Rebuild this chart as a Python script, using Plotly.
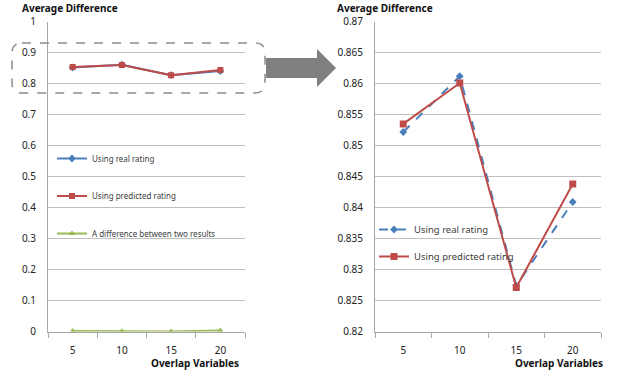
import plotly.graph_objects as go

# ---- data ----
categories = ["5", "10", "15", "20"]
real_rating = [0.8522, 0.8612, 0.8274, 0.8409]
predicted_rating = [0.8535, 0.8601, 0.8271, 0.8438]
difference = [0.0013, 0.0011, 0.0003, 0.0029]

left_ticks = [0, 0.1, 0.2, 0.3, 0.4, 0.5, 0.6, 0.7, 0.8, 0.9, 1]
left_ticktext = ["0", "0.1", "0.2", "0.3", "0.4", "0.5", "0.6", "0.7", "0.8", "0.9", "1"]
right_ticks = [0.82, 0.825, 0.83, 0.835, 0.84, 0.845, 0.85, 0.855, 0.86, 0.865, 0.87]
right_ticktext = ["0.82", "0.825", "0.83", "0.835", "0.84", "0.845", "0.85", "0.855", "0.86", "0.865", "0.87"]

names = ["Using real rating", "Using predicted rating", "A difference between two results"]

BLUE = "#4A7EBB"
RED = "#BE4B48"
GREEN = "#98B954"
GRID = "#BFBFBF"
AXIS = "#A6A6A6"
FONT = "Noto Sans"

W, H = 623, 376

def px(x):
    return x / W

def py(y):
    return 1 - y / H

fig = go.Figure()

# left chart
fig.add_trace(go.Scatter(x=categories, y=real_rating, name=names[0], mode="lines+markers",
                         line=dict(color=BLUE, width=2), marker=dict(symbol="diamond", size=6, color=BLUE),
                         xaxis="x", yaxis="y", legend="legend", legendgroup="a"))
fig.add_trace(go.Scatter(x=categories, y=predicted_rating, name=names[1], mode="lines+markers",
                         line=dict(color=RED, width=2), marker=dict(symbol="square", size=6, color=RED),
                         xaxis="x", yaxis="y", legend="legend", legendgroup="b"))
fig.add_trace(go.Scatter(x=categories, y=difference, name=names[2], mode="lines+markers",
                         line=dict(color=GREEN, width=2), marker=dict(symbol="triangle-up", size=6, color=GREEN),
                         xaxis="x", yaxis="y", legend="legend", legendgroup="c"))

# right chart
fig.add_trace(go.Scatter(x=categories, y=real_rating, name=names[0], mode="lines+markers",
                         line=dict(color=BLUE, width=2, dash="dash"), marker=dict(symbol="diamond", size=6, color=BLUE),
                         xaxis="x2", yaxis="y2", legend="legend2", legendgroup="d"))
fig.add_trace(go.Scatter(x=categories, y=predicted_rating, name=names[1], mode="lines+markers",
                         line=dict(color=RED, width=2), marker=dict(symbol="square", size=7, color=RED),
                         xaxis="x2", yaxis="y2", legend="legend2", legendgroup="e"))

xcommon = dict(type="category", range=[-0.5, 3.5], tickson="boundaries", ticks="outside", ticklen=5,
               tickcolor=AXIS, showline=True, linecolor=AXIS, linewidth=1, showgrid=False,
               tickfont=dict(family=FONT, size=10, color="#222"), ticklabelstandoff=9, fixedrange=True,
               automargin=False)
ycommon = dict(showgrid=True, gridcolor=GRID, gridwidth=1, showline=True, linecolor=AXIS, linewidth=1,
               ticks="", zeroline=False, tickfont=dict(family=FONT, size=10, color="#222"),
               ticklabelstandoff=9, tickmode="array", automargin=False, fixedrange=True)

ydom = [py(331.5), py(21.7)]

fig.update_layout(
    width=W, height=H,
    margin=dict(l=0, r=0, t=0, b=0, autoexpand=False),
    paper_bgcolor="white", plot_bgcolor="white",
    hovermode=False,
    xaxis=dict(domain=[px(48), px(245)], anchor="y", **xcommon),
    yaxis=dict(domain=ydom, anchor="x", range=[0, 1], tickvals=left_ticks, ticktext=left_ticktext, **ycommon),
    xaxis2=dict(domain=[px(375), px(601)], anchor="y2", **xcommon),
    yaxis2=dict(domain=ydom, anchor="x2", range=[0.82, 0.87], tickvals=right_ticks, ticktext=right_ticktext, **ycommon),
    legend=dict(x=px(52), y=py(144), xanchor="left", yanchor="top", bgcolor="rgba(0,0,0,0)",
                font=dict(family=FONT, size=8, color="#404040"), tracegroupgap=18.5, itemwidth=30),
    legend2=dict(x=px(374), y=py(215), xanchor="left", yanchor="top", bgcolor="rgba(0,0,0,0)",
                 font=dict(family=FONT, size=9.5, color="#404040"), tracegroupgap=8, itemwidth=30),
    showlegend=True,
)

# axis titles as annotations
fig.add_annotation(text="<b>Average Difference</b>", xref="paper", yref="paper", x=px(20), y=py(7.5),
                   xanchor="left", yanchor="middle", showarrow=False, font=dict(family=FONT, size=10, color="#111"))
fig.add_annotation(text="<b>Average Difference</b>", xref="paper", yref="paper", x=px(335), y=py(7.5),
                   xanchor="left", yanchor="middle", showarrow=False, font=dict(family=FONT, size=10, color="#111"))
fig.add_annotation(text="<b>Overlap Variables</b>", xref="paper", yref="paper", x=px(241), y=py(363),
                   xanchor="right", yanchor="middle", showarrow=False, font=dict(family=FONT, size=10, color="#111"))
fig.add_annotation(text="<b>Overlap Variables</b>", xref="paper", yref="paper", x=px(605), y=py(363),
                   xanchor="right", yanchor="middle", showarrow=False, font=dict(family=FONT, size=10, color="#111"))

# dashed rounded rectangle (decoration)
x0, x1, y0, y1, r = px(12), px(265), py(43), py(93), 10
rx, ry = r / W, r / H
path = (f"M {x0+rx},{y0} L {x1-rx},{y0} Q {x1},{y0} {x1},{y0-ry} "
        f"L {x1},{y1+ry} Q {x1},{y1} {x1-rx},{y1} "
        f"L {x0+rx},{y1} Q {x0},{y1} {x0},{y1+ry} "
        f"L {x0},{y0-ry} Q {x0},{y0} {x0+rx},{y0} Z")
fig.add_shape(type="path", xref="paper", yref="paper", path=path,
              line=dict(color="#8C8C8C", width=1.5, dash="dash"), fillcolor="rgba(0,0,0,0)")

# block arrow (decoration)
ax = [266, 317, 317, 336, 317, 317, 266]
ay = [58, 58, 49, 68, 87, 78, 78]
apath = "M " + " L ".join(f"{px(a)},{py(b)}" for a, b in zip(ax, ay)) + " Z"
fig.add_shape(type="path", xref="paper", yref="paper", path=apath,
              line=dict(color="#7F7F7F", width=0), fillcolor="#7F7F7F")

fig.write_html("out.html", config={"displayModeBar": False},
               post_script="document.body.style.margin='0';")
